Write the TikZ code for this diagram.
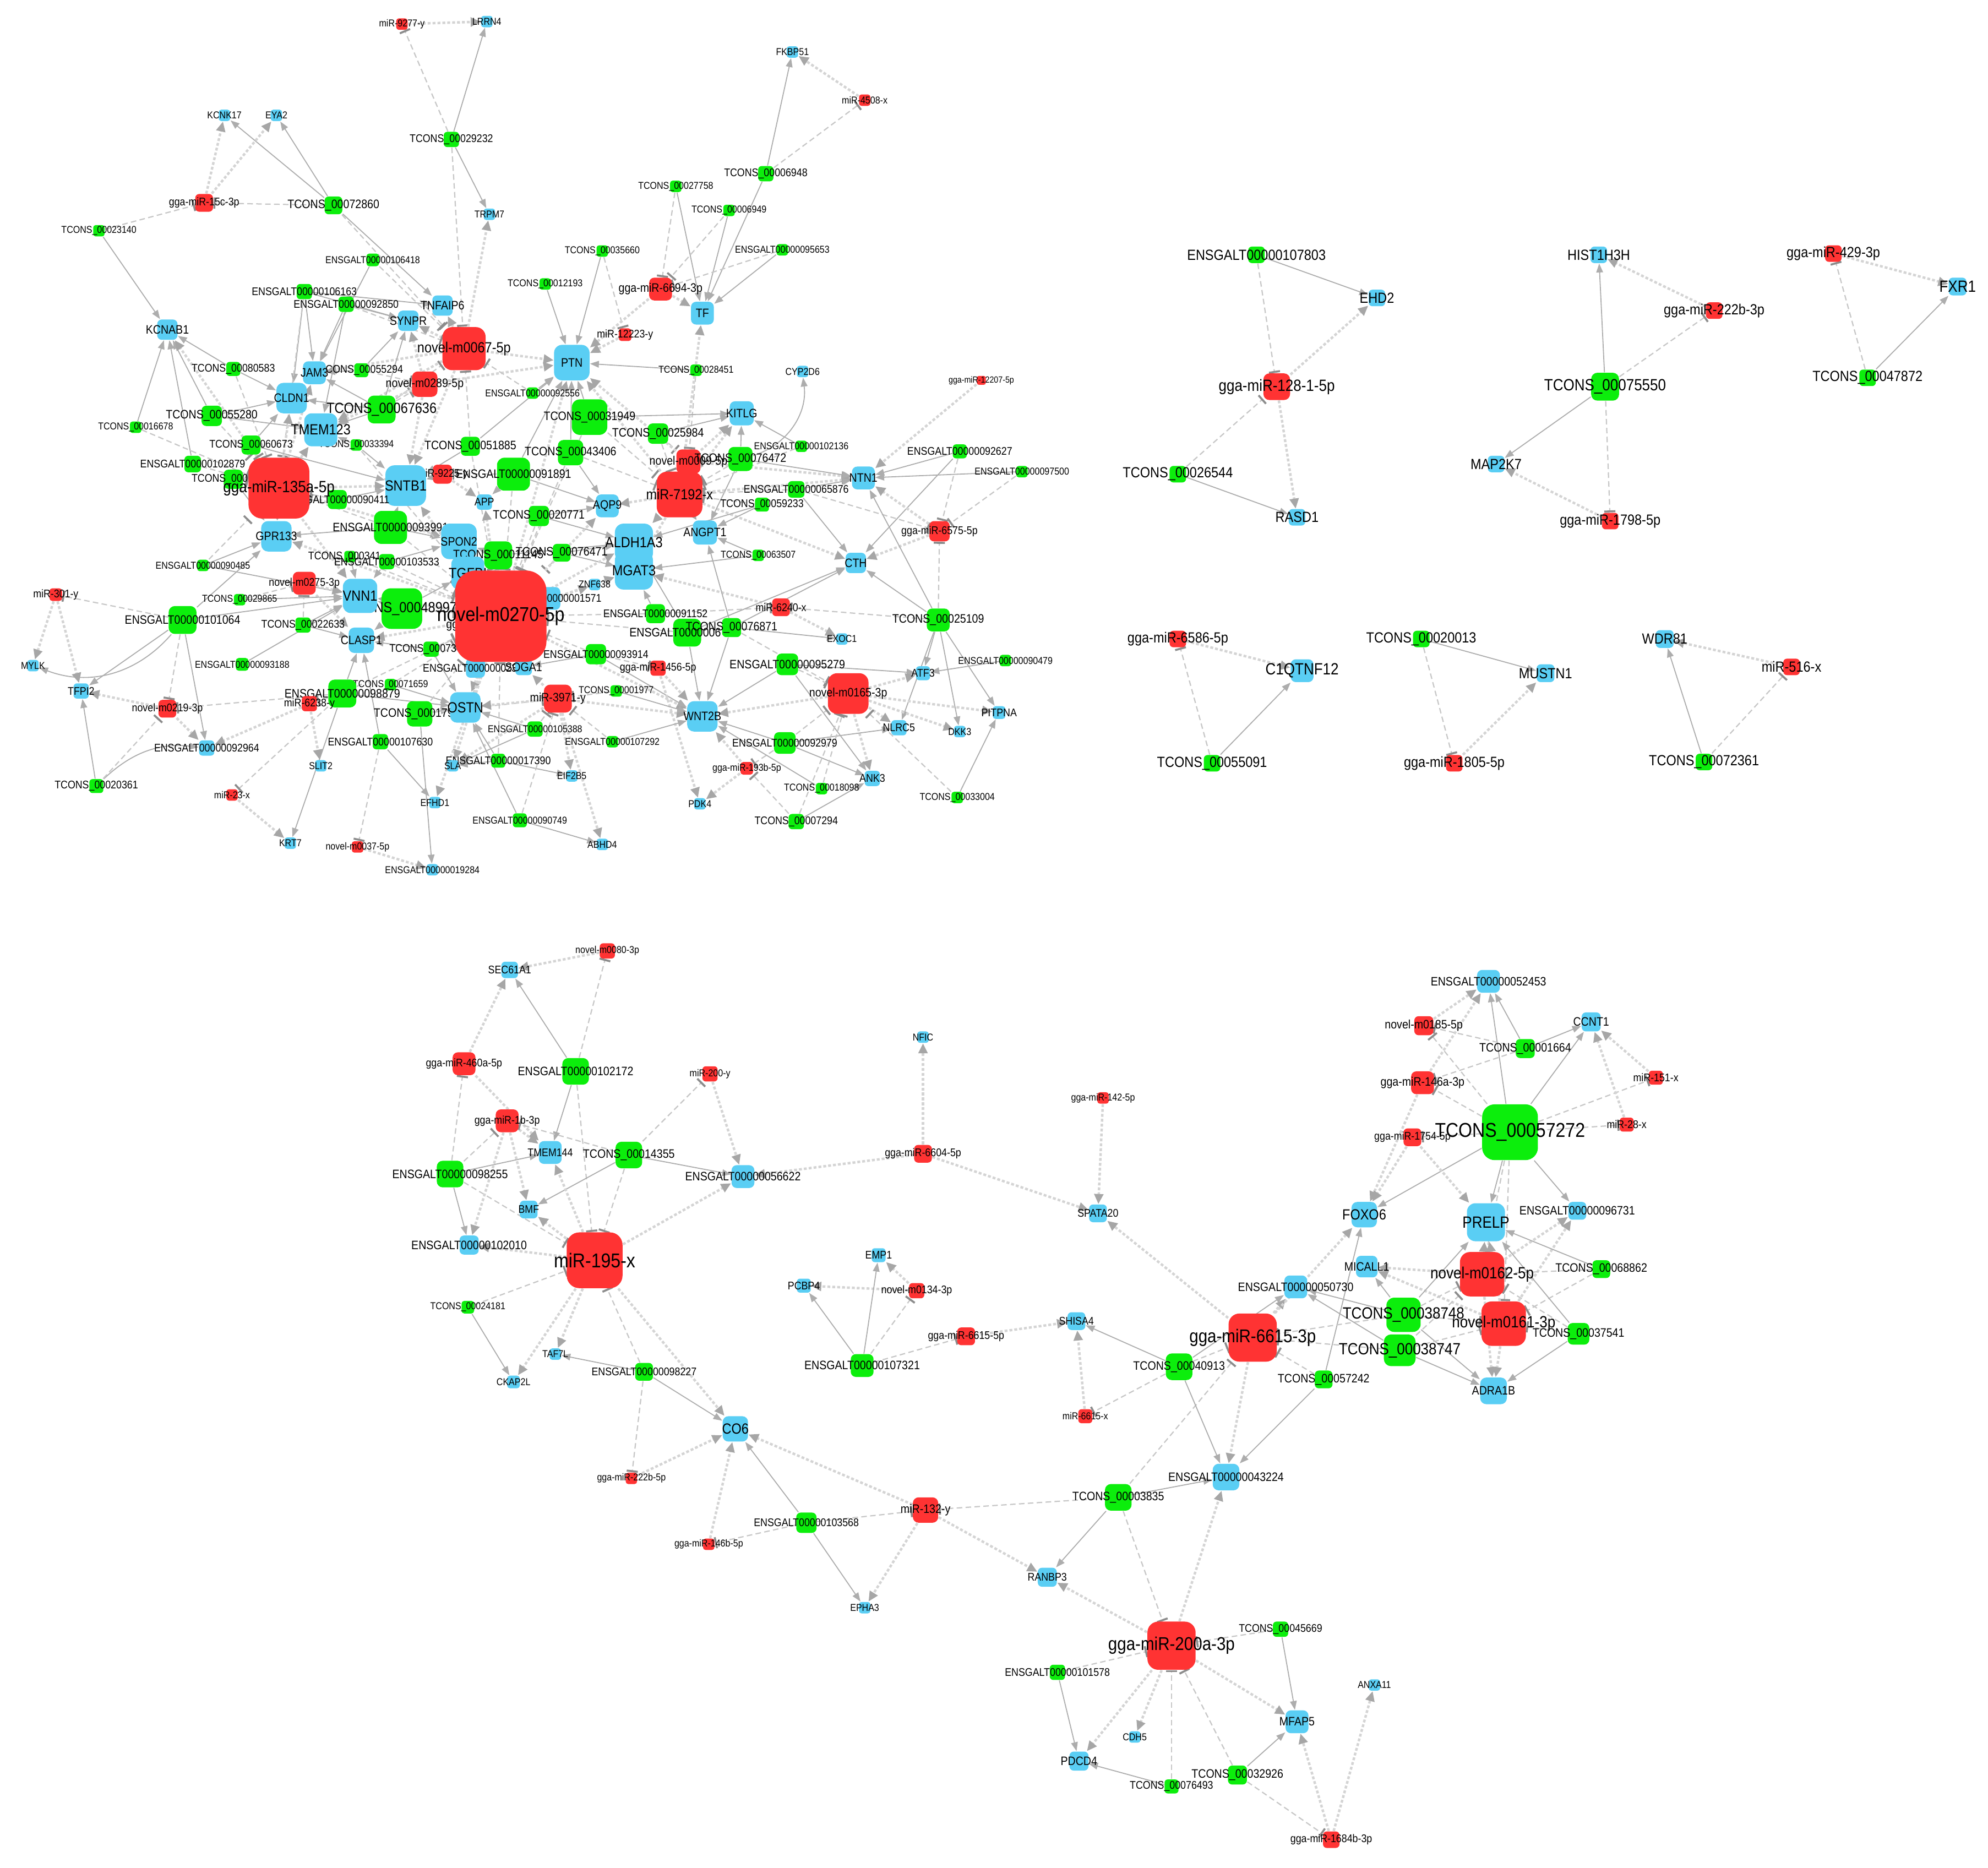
\documentclass[tikz,border=0pt]{standalone}
\usepackage{fontspec}
\setmainfont{Liberation Sans}[FakeStretch=0.88]
\usetikzlibrary{arrows.meta}
\definecolor{mred}{HTML}{FF3333}
\definecolor{gblue}{HTML}{5ACEF4}
\definecolor{lgreen}{HTML}{0CEE0C}
\pgfdeclarelayer{edges}
\pgfsetlayers{edges,main}
\begin{document}
\begin{tikzpicture}[x=0.2mm, y=-0.2mm,
  nd/.style={rectangle, inner sep=0pt, minimum size=#1*0.2mm, rounded corners=#1*0.045mm},
  mir/.style={nd=#1, fill=mred},
  gene/.style={nd=#1, fill=gblue},
  lnc/.style={nd=#1, fill=lgreen},
  fa/.style={font=\fontsize{4}{4}\selectfont},
  f1/.style={font=\fontsize{4.5}{5}\selectfont},
  f2/.style={font=\fontsize{5}{6}\selectfont},
  f3/.style={font=\fontsize{5.5}{6}\selectfont},
  f4/.style={font=\fontsize{6.6}{7}\selectfont},
  f5/.style={font=\fontsize{7.3}{8}\selectfont},
  fL/.style={font=\fontsize{8.3}{9}\selectfont},
  f6/.style={font=\fontsize{9}{10}\selectfont},
  tg/.style={draw=black!32, line width=0.45pt, -{Triangle[length=4pt,width=3pt]}},
  sp/.style={draw=black!22, line width=0.55pt, dash pattern=on 2.5pt off 1.5pt, -{Bar[width=5pt,line width=0.9pt,color=black!45]}},
  mt/.style={draw=black!17, line width=1.1pt, dash pattern=on 1.3pt off 0.9pt, -{Triangle[length=4.5pt,width=4pt,color=black!35]}}]
\useasboundingbox (0,0) rectangle (1568,1473);

% big network, upper left
\node[mir=9, label={[f1]center:miR-9277-y}] (m9277) at (317,19) {};
\node[gene=9, label={[f1]center:LRRN4}] (lrrn4) at (384,17) {};
\node[gene=9, label={[f1]center:KCNK17}] (kcnk17) at (177,91) {};
\node[gene=9, label={[f1]center:EYA2}] (eya2) at (218,91) {};
\node[lnc=12, label={[f2]center:TCONS\_00029232}] (t29232) at (356,110) {};
\node[mir=14, label={[f2]center:gga-miR-15c-3p}] (m15c) at (161,160) {};
\node[lnc=14, label={[f3]center:TCONS\_00072860}] (t72860) at (263,162) {};
\node[gene=9, label={[f1]center:TRPM7}] (trpm7) at (386,169) {};
\node[lnc=9, label={[f1]center:TCONS\_00023140}] (t23140) at (78,182) {};
\node[lnc=10, label={[f1]center:ENSGALT00000106418}] (e106418) at (294,205) {};
\node[lnc=12, label={[f2]center:ENSGALT00000106163}] (e106163) at (240,230) {};
\node[lnc=12, label={[f2]center:ENSGALT00000092850}] (e92850) at (273,240) {};
\node[gene=16, label={[f3]center:TNFAIP6}] (tnfaip6) at (349,241) {};
\node[gene=16, label={[f3]center:SYNPR}] (synpr) at (322,253) {};
\node[gene=16, label={[f3]center:KCNAB1}] (kcnab1) at (132,260) {};
\node[lnc=11, label={[f2]center:TCONS\_00080583}] (t80583) at (184,291) {};
\node[lnc=11, label={[f2]center:TCONS\_00055294}] (t55294) at (285,292) {};
\node[gene=18, label={[f3]center:JAM3}] (jam3) at (248,294) {};
\node[mir=34, label={[f4]center:novel-m0067-5p}] (m0067) at (366,275) {};
\node[mir=20, label={[f3]center:novel-m0289-5p}] (m0289) at (335,303) {};
\node[gene=9, label={[f1]center:FKBP51}] (fkbp51) at (625,41) {};
\node[mir=9, label={[f1]center:miR-4508-x}] (m4508) at (682,79) {};
\node[lnc=12, label={[f2]center:TCONS\_00006948}] (t6948) at (604,137) {};
\node[lnc=9, label={[f1]center:TCONS\_00027758}] (t27758) at (533,147) {};
\node[lnc=9, label={[f1]center:TCONS\_00006949}] (t6949) at (575,166) {};
\node[lnc=9, label={[f1]center:ENSGALT00000095653}] (e95653) at (617,197) {};
\node[lnc=9, label={[f1]center:TCONS\_00035660}] (t35660) at (475,198) {};
\node[lnc=9, label={[f1]center:TCONS\_00012193}] (t12193) at (430,224) {};
\node[mir=18, label={[f3]center:gga-miR-6694-3p}] (m6694) at (521,228) {};
\node[gene=18, label={[f3]center:TF}] (tf) at (554,247) {};
\node[mir=10, label={[f2]center:miR-12223-y}] (m12223) at (493,264) {};
\node[gene=28, label={[f3]center:PTN}] (ptn) at (451,286) {};
\node[lnc=9, label={[f1]center:TCONS\_00028451}] (t28451) at (549,292) {};
\node[gene=9, label={[f1]center:CYP2D6}] (cyp2d6) at (633,293) {};
\node[mir=7, label={[fa]center:gga-miR-12207-5p}] (m12207) at (774,300) {};
\node[lnc=9, label={[f1]center:ENSGALT00000092556}] (e92556) at (420,310) {};
\node[gene=24, label={[f3]center:CLDN1}] (cldn1) at (230,314) {};
\node[lnc=22, label={[f4]center:TCONS\_00067636}] (t67636) at (301,323) {};
\node[lnc=16, label={[f3]center:TCONS\_00055280}] (t55280) at (167,328) {};
\node[lnc=9, label={[f1]center:TCONS\_00016678}] (t16678) at (107,337) {};
\node[lnc=9, label={[f1]center:TCONS\_00033394}] (t33394) at (281,351) {};
\node[gene=26, label={[f4]center:TMEM123}] (tmem123) at (253,339) {};
\node[lnc=28, label={[f3]center:TCONS\_00031949}] (t31949) at (465,329) {};
\node[gene=19, label={[f3]center:KITLG}] (kitlg) at (585,326) {};
\node[lnc=16, label={[f3]center:TCONS\_00025984}] (t25984) at (519,342) {};
\node[lnc=9, label={[f1]center:ENSGALT00000102136}] (e102136) at (632,352) {};
\node[lnc=15, label={[f2]center:TCONS\_00060673}] (t60673) at (198,351) {};
\node[lnc=15, label={[f3]center:TCONS\_00051885}] (t51885) at (371,352) {};
\node[lnc=20, label={[f3]center:TCONS\_00043406}] (t43406) at (450,357) {};
\node[lnc=11, label={[f2]center:ENSGALT00000092627}] (e92627) at (757,356) {};
\node[lnc=13, label={[f2]center:ENSGALT00000102879}] (e102879) at (152,366) {};
\node[mir=19, label={[f3]center:novel-m0009-5p}] (m0009) at (543,364) {};
\node[lnc=19, label={[f3]center:TCONS\_00076472}] (t76472) at (584,362) {};
\node[lnc=9, label={[f1]center:ENSGALT00000097500}] (e97500) at (806,372) {};
\node[mir=15, label={[f2]center:miR-9225-y}] (m9225) at (349,374) {};
\node[lnc=26, label={[f3]center:ENSGALT00000091891}] (e91891) at (405,374) {};
\node[gene=18, label={[f3]center:NTN1}] (ntn1) at (681,377) {};
\node[lnc=15, label={[f2]center:TCONS\_000\phantom{00000}}] (thid) at (184,378) {};
\node[gene=32, label={[f4]center:SNTB1}] (sntb1) at (320,383) {};
\node[lnc=13, label={[f2]center:ENSGALT00000065876}] (e65876) at (628,386) {};
\node[mir=36, label={[f4]center:miR-7192-x}] (m7192) at (536,390) {};
\node[lnc=15, label={[f2]center:ENSGALT00000090411}] (e90411) at (266,394) {};
\node[mir=48, label={[f5]center:gga-miR-135a-5p}] (m135a) at (220,385) {};
\node[gene=12, label={[f2]center:APP}] (app) at (382,396) {};
\node[lnc=11, label={[f2]center:TCONS\_00059233}] (t59233) at (601,398) {};
\node[gene=18, label={[f3]center:AQP9}] (aqp9) at (479,399) {};
\node[lnc=16, label={[f3]center:TCONS\_00020771}] (t20771) at (425,407) {};
\node[lnc=26, label={[f3]center:ENSGALT00000093991}] (e93991) at (308,416) {};
\node[gene=19, label={[f3]center:ANGPT1}] (angpt1) at (556,420) {};
\node[mir=16, label={[f2]center:gga-miR-6575-5p}] (m6575) at (741,419) {};
\node[gene=24, label={[f3]center:GPR133}] (gpr133) at (218,423) {};
\node[gene=28, label={[f3]center:SPON2}] (spon2) at (362,427) {};
\node[gene=30, label={[f4]center:ALDH1A3}] (aldh1a3) at (500,428) {};
\node[gene=30, label={[f4]center:MGAT3}] (mgat3) at (500,450) {};
\node[lnc=22, label={[f3]center:TCONS\_00011145}] (t11145) at (393,438) {};
\node[lnc=14, label={[f3]center:TCONS\_00076471}] (t76471) at (443,436) {};
\node[lnc=9, label={[f2]center:TCONS\_000341\phantom{00}}] (t34175) at (276,439) {};
\node[lnc=12, label={[f2]center:ENSGALT00000103533}] (e103533) at (305,443) {};
\node[lnc=9, label={[f1]center:TCONS\_00063507}] (t63507) at (598,438) {};
\node[gene=16, label={[f3]center:CTH}] (cth) at (675,444) {};
\node[lnc=9, label={[f1]center:ENSGALT00000090485}] (e90485) at (160,446) {};
\node[gene=26, label={[f4]center:TGFBI}] (tgfbi) at (369,452) {};
\node[gene=9, label={[f1]center:ZNF638}] (znf638) at (469,461) {};
\node[mir=18, label={[f2]center:novel-m0275-3p}] (m0275) at (240,460) {};
\node[mir=10, label={[f2]center:miR-301-y}] (m301) at (44,469) {};
\node[lnc=9, label={[f1]center:TCONS\_00029865}] (t29865) at (189,473) {};
\node[lnc=32, label={[f4]center:TCONS\_00048997}] (t48997) at (317,480) {};
\node[gene=27, label={[f4]center:VNN1}] (vnn1) at (284,470) {};
\node[gene=18, label={[f2]center:ENSGALT00000001571}] (e1571) at (433,472) {};
\node[mir=20, label={[f3]center:gga-miR-\phantom{0000-0p}}] (mgh) at (385,493) {};
\node[lnc=12, label={[f2]center:TCONS\_00073\phantom{000}}] (t73x) at (340,512) {};
\node[mir=14, label={[f2]center:miR-6240-x}] (m6240) at (616,479) {};
\node[lnc=15, label={[f2]center:ENSGALT00000091152}] (e91152) at (517,484) {};
\node[lnc=18, label={[f3]center:TCONS\_00025109}] (t25109) at (740,489) {};
\node[lnc=22, label={[f3]center:ENSGALT00000101064}] (e101064) at (144,489) {};
\node[lnc=12, label={[f2]center:TCONS\_00022633}] (t22633) at (239,493) {};
\node[lnc=22, label={[f3]center:ENSGALT0000006\phantom{0000}}] (e06x) at (542,499) {};
\node[lnc=15, label={[f3]center:TCONS\_00076871}] (t76871) at (577,495) {};
\node[gene=9, label={[f1]center:EXOC1}] (exoc1) at (664,504) {};
\node[gene=20, label={[f3]center:CLASP1}] (clasp1) at (285,505) {};
\node[lnc=16, label={[f2]center:ENSGALT00000093914}] (e93914) at (470,516) {};
\node[lnc=9, label={[f1]center:ENSGALT00000090479}] (e90479) at (793,521) {};
\node[gene=9, label={[f1]center:MYLK}] (mylk) at (26,525) {};
\node[lnc=10, label={[f1]center:ENSGALT00000093188}] (e93188) at (191,524) {};
\node[gene=15, label={[f2]center:ENSGALT000000023\phantom{00}}] (e23x) at (375,527) {};
\node[gene=13, label={[f3]center:SOGA1}] (soga1) at (413,526) {};
\node[mir=72, label={[f6]center:novel-m0270-5p}] (m0270) at (395,486) {};
\node[mir=12, label={[f2]center:gga-miR-1456-5p}] (m1456) at (519,527) {};
\node[lnc=17, label={[f3]center:ENSGALT00000095279}] (e95279) at (621,524) {};
\node[gene=11, label={[f2]center:ATF3}] (atf3) at (728,531) {};
\node[gene=12, label={[f2]center:TFPI2}] (tfpi2) at (64,545) {};
\node[lnc=9, label={[f1]center:TCONS\_00071659}] (t71659) at (308,540) {};
\node[lnc=22, label={[f3]center:ENSGALT00000098879}] (e98879) at (270,547) {};
\node[mir=12, label={[f2]center:miR-6238-y}] (m6238) at (244,555) {};
\node[mir=14, label={[f2]center:novel-m0219-3p}] (m0219) at (132,559) {};
\node[lnc=20, label={[f3]center:TCONS\_00017904}] (t17904) at (331,563) {};
\node[gene=24, label={[f4]center:OSTN}] (ostn) at (367,558) {};
\node[mir=22, label={[f3]center:miR-3971-y}] (m3971) at (440,551) {};
\node[lnc=9, label={[f1]center:TCONS\_00001977}] (t1977) at (486,545) {};
\node[mir=32, label={[f3]center:novel-m0165-3p}] (m0165) at (669,547) {};
\node[gene=24, label={[f3]center:WNT2B}] (wnt2b) at (554,565) {};
\node[gene=10, label={[f2]center:PITPNA}] (pitpna) at (788,562) {};
\node[lnc=12, label={[f1]center:ENSGALT00000105388}] (e105388) at (422,575) {};
\node[gene=12, label={[f2]center:NLRC5}] (nlrc5) at (709,574) {};
\node[gene=9, label={[f1]center:DKK3}] (dkk3) at (757,577) {};
\node[lnc=9, label={[f1]center:ENSGALT00000107292}] (e107292) at (483,585) {};
\node[lnc=17, label={[f2]center:ENSGALT00000092979}] (e92979) at (619,586) {};
\node[gene=12, label={[f2]center:ENSGALT00000092964}] (e92964) at (163,590) {};
\node[lnc=12, label={[f2]center:ENSGALT00000107630}] (e107630) at (300,585) {};
\node[lnc=11, label={[f2]center:ENSGALT00000017390}] (e17390) at (393,600) {};
\node[gene=9, label={[f1]center:SLIT2}] (slit2) at (253,604) {};
\node[gene=9, label={[f1]center:SLA}] (sla) at (357,604) {};
\node[mir=10, label={[f1]center:gga-miR-193b-5p}] (m193b) at (589,606) {};
\node[gene=9, label={[f1]center:EIF2B5}] (eif2b5) at (451,612) {};
\node[gene=12, label={[f2]center:ANK3}] (ank3) at (688,614) {};
\node[lnc=11, label={[f2]center:TCONS\_00020361}] (t20361) at (76,620) {};
\node[lnc=9, label={[f1]center:TCONS\_00018098}] (t18098) at (648,622) {};
\node[mir=9, label={[f1]center:miR-23-x}] (m23) at (183,627) {};
\node[lnc=9, label={[f1]center:TCONS\_00033004}] (t33004) at (755,629) {};
\node[gene=9, label={[f1]center:EFHD1}] (efhd1) at (343,633) {};
\node[gene=9, label={[f1]center:PDK4}] (pdk4) at (552,634) {};
\node[lnc=11, label={[f1]center:ENSGALT00000090749}] (e90749) at (410,647) {};
\node[lnc=12, label={[f2]center:TCONS\_00007294}] (t7294) at (628,648) {};
\node[gene=9, label={[f1]center:KRT7}] (krt7) at (229,665) {};
\node[gene=9, label={[f1]center:ABHD4}] (abhd4) at (475,666) {};
\node[mir=9, label={[f1]center:novel-m0037-5p}] (m0037) at (282,668) {};
\node[gene=9, label={[f1]center:ENSGALT00000019284}] (e19284) at (341,686) {};

% small triangles, upper right
\node[lnc=13, label={[f4]center:ENSGALT00000107803}] (e107803) at (991,201) {};
\node[gene=13, label={[f4]center:EHD2}] (ehd2) at (1086,235) {};
\node[mir=21, label={[f5]center:gga-miR-128-1-5p}] (m128) at (1007,305) {};
\node[lnc=13, label={[f4]center:TCONS\_00026544}] (t26544) at (929,374) {};
\node[gene=13, label={[f4]center:RASD1}] (rasd1) at (1023,408) {};
\node[gene=13, label={[f4]center:HIST1H3H}] (hist1h3h) at (1261,201) {};
\node[mir=13, label={[f4]center:gga-miR-222b-3p}] (m222b3) at (1352,245) {};
\node[lnc=22, label={[f5]center:TCONS\_00075550}] (t75550) at (1266,305) {};
\node[gene=13, label={[f4]center:MAP2K7}] (map2k7) at (1180,366) {};
\node[mir=13, label={[f4]center:gga-miR-1798-5p}] (m1798) at (1270,411) {};
\node[mir=13, label={[f4]center:gga-miR-429-3p}] (m429) at (1446,200) {};
\node[gene=14, label={[f5]center:FXR1}] (fxr1) at (1544,226) {};
\node[lnc=13, label={[f4]center:TCONS\_00047872}] (t47872) at (1473,298) {};
\node[mir=13, label={[f4]center:gga-miR-6586-5p}] (m6586) at (929,504) {};
\node[gene=18, label={[f5]center:C1QTNF12}] (c1qtnf12) at (1027,529) {};
\node[lnc=13, label={[f4]center:TCONS\_00055091}] (t55091) at (956,602) {};
\node[lnc=13, label={[f4]center:TCONS\_00020013}] (t20013) at (1121,504) {};
\node[gene=14, label={[f4]center:MUSTN1}] (mustn1) at (1219,531) {};
\node[mir=13, label={[f4]center:gga-miR-1805-5p}] (m1805) at (1147,602) {};
\node[gene=14, label={[f4]center:WDR81}] (wdr81) at (1313,504) {};
\node[mir=13, label={[f4]center:miR-516-x}] (m516) at (1413,526) {};
\node[lnc=13, label={[f4]center:TCONS\_00072361}] (t72361) at (1344,601) {};

% lower network
\node[mir=12, label={[f1]center:novel-m0080-3p}] (m0080) at (479,750) {};
\node[gene=13, label={[f2]center:SEC61A1}] (sec61a1) at (402,765) {};
\node[mir=18, label={[f2]center:gga-miR-460a-5p}] (m460a) at (366,839) {};
\node[lnc=21, label={[f3]center:ENSGALT00000102172}] (e102172) at (454,845) {};
\node[mir=12, label={[f1]center:miR-200-y}] (m200y) at (560,847) {};
\node[gene=9, label={[f1]center:NFIC}] (nfic) at (728,818) {};
\node[mir=9, label={[f1]center:gga-miR-142-5p}] (m142) at (870,866) {};
\node[mir=18, label={[f2]center:gga-miR-1b-3p}] (m1b) at (400,884) {};
\node[gene=18, label={[f2]center:TMEM144}] (tmem144) at (434,909) {};
\node[lnc=21, label={[f3]center:TCONS\_00014355}] (t14355) at (496,911) {};
\node[mir=14, label={[f2]center:gga-miR-6604-5p}] (m6604) at (728,910) {};
\node[lnc=21, label={[f3]center:ENSGALT00000098255}] (e98255) at (355,926) {};
\node[gene=18, label={[f3]center:ENSGALT00000056622}] (e56622) at (586,928) {};
\node[gene=14, label={[f2]center:BMF}] (bmf) at (417,954) {};
\node[gene=14, label={[f2]center:SPATA20}] (spata20) at (866,957) {};
\node[gene=15, label={[f3]center:ENSGALT00000102010}] (e102010) at (370,982) {};
\node[mir=44, label={[f6]center:miR-195-x}] (m195) at (469,994) {};
\node[gene=11, label={[f2]center:EMP1}] (emp1) at (693,990) {};
\node[gene=11, label={[f2]center:PCBP4}] (pcbp4) at (634,1014) {};
\node[mir=12, label={[f2]center:novel-m0134-3p}] (m0134) at (723,1018) {};
\node[lnc=10, label={[f1]center:TCONS\_00024181}] (t24181) at (369,1031) {};
\node[gene=14, label={[f2]center:SHISA4}] (shisa4) at (849,1042) {};
\node[mir=14, label={[f2]center:gga-miR-6615-5p}] (m6615b) at (762,1054) {};
\node[gene=9, label={[f1]center:TAF7L}] (taf7l) at (438,1068) {};
\node[lnc=18, label={[f3]center:ENSGALT00000107321}] (e107321) at (680,1077) {};
\node[lnc=14, label={[f2]center:ENSGALT00000098227}] (e98227) at (508,1082) {};
\node[gene=10, label={[f1]center:CKAP2L}] (ckap2l) at (405,1090) {};
\node[mir=11, label={[f1]center:miR-6615-x}] (m6615x) at (856,1117) {};
\node[gene=20, label={[f4]center:CO6}] (co6) at (580,1127) {};
\node[mir=9, label={[f1]center:gga-miR-222b-5p}] (m222b5) at (498,1166) {};
\node[lnc=16, label={[f2]center:ENSGALT00000103568}] (e103568) at (636,1201) {};
\node[mir=20, label={[f3]center:miR-132-y}] (m132) at (730,1191) {};
\node[mir=9, label={[f1]center:gga-miR-146b-5p}] (m146b) at (559,1218) {};
\node[gene=9, label={[f1]center:EPHA3}] (epha3) at (682,1268) {};
\node[lnc=21, label={[f3]center:TCONS\_00003835}] (t3835) at (882,1181) {};
\node[gene=21, label={[f3]center:ENSGALT00000043224}] (e43224) at (967,1165) {};
\node[gene=15, label={[f2]center:RANBP3}] (ranbp3) at (826,1244) {};
\node[lnc=21, label={[f3]center:TCONS\_00040913}] (t40913) at (930,1078) {};
\node[lnc=14, label={[f3]center:TCONS\_00057242}] (t57242) at (1044,1088) {};
\node[gene=18, label={[f3]center:ENSGALT00000050730}] (e50730) at (1022,1015) {};
\node[mir=38, label={[fL]center:gga-miR-6615-3p}] (m6615) at (988,1055) {};
\node[mir=38, label={[fL]center:gga-miR-200a-3p}] (m200a) at (924,1298) {};
\node[lnc=12, label={[f2]center:TCONS\_00045669}] (t45669) at (1010,1285) {};
\node[lnc=12, label={[f2]center:ENSGALT00000101578}] (e101578) at (834,1319) {};
\node[gene=9, label={[f1]center:ANXA11}] (anxa11) at (1084,1329) {};
\node[gene=18, label={[f3]center:MFAP5}] (mfap5) at (1023,1358) {};
\node[gene=9, label={[f1]center:CDH5}] (cdh5) at (895,1370) {};
\node[gene=15, label={[f3]center:PDCD4}] (pdcd4) at (851,1389) {};
\node[lnc=15, label={[f3]center:TCONS\_00032926}] (t32926) at (976,1400) {};
\node[lnc=11, label={[f2]center:TCONS\_00076493}] (t76493) at (924,1409) {};
\node[mir=13, label={[f2]center:gga-miR-1684b-3p}] (m1684b) at (1050,1451) {};
\node[gene=18, label={[f3]center:ENSGALT00000052453}] (e52453) at (1174,774) {};
\node[mir=15, label={[f3]center:novel-m0185-5p}] (m0185) at (1123,809) {};
\node[gene=15, label={[f3]center:CCNT1}] (ccnt1) at (1255,806) {};
\node[lnc=15, label={[f3]center:TCONS\_00001664}] (t1664) at (1203,827) {};
\node[mir=18, label={[f3]center:gga-miR-146a-3p}] (m146a) at (1122,854) {};
\node[mir=11, label={[f2]center:miR-151-x}] (m151) at (1306,850) {};
\node[mir=14, label={[f2]center:gga-miR-1754-5p}] (m1754) at (1114,897) {};
\node[lnc=44, label={[f6]center:TCONS\_00057272}] (t57272) at (1191,893) {};
\node[mir=11, label={[f2]center:miR-28-x}] (m28) at (1283,887) {};
\node[gene=20, label={[f4]center:FOXO6}] (foxo6) at (1076,958) {};
\node[gene=30, label={[f5]center:PRELP}] (prelp) at (1172,964) {};
\node[gene=14, label={[f3]center:ENSGALT00000096731}] (e96731) at (1244,955) {};
\node[gene=17, label={[f3]center:MICALL1}] (micall1) at (1078,999) {};
\node[lnc=14, label={[f3]center:TCONS\_00068862}] (t68862) at (1263,1001) {};
\node[mir=35, label={[f5]center:novel-m0162-5p}] (m0162) at (1169,1005) {};
\node[lnc=27, label={[f5]center:TCONS\_00038748}] (t38748) at (1107,1037) {};
\node[lnc=17, label={[f3]center:TCONS\_00037541}] (t37541) at (1245,1052) {};
\node[mir=35, label={[f5]center:novel-m0161-3p}] (m0161) at (1186,1044) {};
\node[lnc=25, label={[f5]center:TCONS\_00038747}] (t38747) at (1104,1065) {};
\node[gene=21, label={[f3]center:ADRA1B}] (adra1b) at (1178,1097) {};

\begin{pgfonlayer}{edges}
% big network, upper left
\path (t29232) edge[tg] (lrrn4) edge[tg] (trpm7) edge[sp] (m9277) edge[sp] (m0067);
\path (m9277) edge[mt] (lrrn4);
\path (m0067) edge[mt] (trpm7) edge[mt] (synpr) edge[mt] (tnfaip6) edge[mt] (ptn) edge[mt] (tmem123) edge[mt] (jam3) edge[mt] (sntb1);
\path (t72860) edge[tg] (kcnk17) edge[tg] (eya2) edge[tg] (tnfaip6) edge[sp] (m15c) edge[sp] (m0067);
\path (m15c) edge[mt] (kcnk17) edge[mt] (eya2);
\path (t23140) edge[sp] (m15c) edge[tg] (kcnab1);
\path (e106418) edge[tg] (jam3) edge[sp] (m0067);
\path (e106163) edge[tg] (tnfaip6) edge[tg] (synpr) edge[tg] (jam3) edge[tg] (cldn1) edge[sp] (m135a);
\path (e92850) edge[tg] (synpr) edge[tg] (jam3) edge[tg] (tmem123) edge[sp] (m0067);
\path (t80583) edge[tg] (kcnab1) edge[tg] (cldn1) edge[sp] (m135a);
\path (t16678) edge[tg] (kcnab1) edge[sp] (m135a);
\path (t55280) edge[tg] (kcnab1) edge[tg] (cldn1) edge[tg] (tmem123) edge[sp] (m135a);
\path (m135a) edge[mt] (kcnab1) edge[mt] (cldn1) edge[mt] (tmem123) edge[mt] (gpr133) edge[mt] (sntb1) edge[mt] (jam3) edge[mt] (vnn1) edge[mt] (spon2);
\path (t60673) edge[sp] (m135a) edge[tg] (cldn1) edge[tg] (sntb1);
\path (e102879) edge[sp] (m135a) edge[tg] (kcnab1);
\path (thid) edge[sp] (m135a) edge[tg] (gpr133);
\path (e90411) edge[sp] (m135a) edge[tg] (sntb1);
\path (e93991) edge[sp] (m135a) edge[tg] (gpr133) edge[tg] (spon2) edge[sp] (m0270) edge[tg] (sntb1);
\path (e90485) edge[sp] (m135a) edge[tg] (gpr133) edge[tg] (vnn1);
\path (t67636) edge[tg] (cldn1) edge[tg] (tmem123) edge[tg] (jam3) edge[sp] (m0067) edge[sp] (m0289) edge[tg] (synpr);
\path (m0289) edge[mt] (synpr) edge[mt] (tmem123) edge[mt] (sntb1) edge[mt] (ptn);
\path (t55294) edge[tg] (jam3) edge[tg] (synpr) edge[sp] (m0289);
\path (t33394) edge[tg] (tmem123) edge[tg] (sntb1) edge[sp] (m0270);
\path (t51885) edge[tg] (sntb1) edge[tg] (ptn) edge[sp] (m0067) edge[sp] (m0270);
\path (e92556) edge[tg] (ptn) edge[sp] (m0067);
\path (t12193) edge[tg] (ptn);
\path (t35660) edge[tg] (ptn) edge[sp] (m12223);
\path (m12223) edge[mt] (ptn);
\path (t27758) edge[tg] (tf) edge[sp] (m6694);
\path (t6949) edge[tg] (tf) edge[sp] (m6694);
\path (t6948) edge[tg] (tf) edge[tg] (fkbp51) edge[sp] (m4508);
\path (m4508) edge[mt] (fkbp51);
\path (e95653) edge[tg] (tf) edge[sp] (m6694);
\path (m6694) edge[mt] (tf) edge[mt] (ptn);
\path (t28451) edge[tg] (ptn) edge[sp] (m0009);
\path (t31949) edge[tg] (kitlg) edge[tg] (ptn) edge[sp] (m0270) edge[sp] (m7192);
\path (t25984) edge[tg] (kitlg) edge[sp] (m0009) edge[sp] (m7192);
\path (m0009) edge[mt] (kitlg) edge[mt] (ntn1) edge[mt] (ptn);
\path (m7192) edge[mt] (kitlg) edge[mt] (aldh1a3) edge[mt] (mgat3) edge[mt] (angpt1) edge[mt] (aqp9) edge[mt] (ntn1) edge[mt] (cth) edge[mt] (ptn) edge[mt] (tf);
\path (t76472) edge[tg, bend right=40] (cyp2d6) edge[tg] (kitlg) edge[tg] (ntn1) edge[sp] (m7192) edge[sp] (m0009) edge[tg] (angpt1);
\path (e102136) edge[tg] (kitlg) edge[sp] (m7192);
\path (m12207) edge[mt] (ntn1);
\path (e92627) edge[tg] (ntn1) edge[tg] (cth) edge[sp] (m6575);
\path (e97500) edge[tg] (ntn1) edge[sp] (m6575);
\path (e65876) edge[tg] (ntn1) edge[tg] (cth) edge[sp] (m7192) edge[sp] (m6575);
\path (m6575) edge[mt] (cth) edge[mt] (ntn1);
\path (t25109) edge[tg] (ntn1) edge[tg] (cth) edge[tg] (atf3) edge[tg] (dkk3) edge[tg] (pitpna) edge[tg] (nlrc5) edge[sp] (m6575) edge[sp] (m6240);
\path (t59233) edge[tg] (angpt1) edge[sp] (m7192) edge[tg] (aldh1a3);
\path (t43406) edge[tg] (aqp9) edge[sp] (m7192) edge[tg] (ptn) edge[sp] (m0270);
\path (t20771) edge[tg] (aldh1a3) edge[tg] (aqp9) edge[sp] (m0270);
\path (e91891) edge[tg] (ptn) edge[tg] (aqp9) edge[tg] (app) edge[sp] (m9225) edge[sp] (m0270);
\path (m9225) edge[mt] (sntb1) edge[mt] (app);
\path (t63507) edge[tg] (mgat3) edge[tg] (angpt1);
\path (m6240) edge[mt] (exoc1) edge[mt] (mgat3);
\path (e91152) edge[sp] (m6240) edge[tg] (mgat3) edge[sp] (m0270);
\path (t76871) edge[tg] (exoc1) edge[tg] (cth) edge[tg] (wnt2b) edge[tg] (angpt1) edge[sp] (m0165);
\path (e06x) edge[tg] (cth) edge[tg] (wnt2b) edge[sp] (m0270) edge[tg] (aldh1a3);
\path (t76471) edge[tg] (aldh1a3) edge[tg] (mgat3) edge[sp] (m0270);
\path (t11145) edge[tg] (spon2) edge[sp] (m0270) edge[tg] (aldh1a3);
\path (m0270) edge[mt] (vnn1) edge[mt] (clasp1) edge[mt] (ostn) edge[mt] (spon2) edge[mt] (sntb1) edge[mt] (aldh1a3) edge[mt] (mgat3) edge[mt] (znf638) edge[mt] (app) edge[mt] (aqp9) edge[mt] (wnt2b) edge[mt] (ptn) edge[mt] (gpr133) edge[mt] (sla) edge[mt] (efhd1);
\path (e103533) edge[tg] (vnn1) edge[sp] (m0270) edge[tg] (spon2);
\path (t34175) edge[tg] (vnn1) edge[sp] (m0270);
\path (t48997) edge[tg] (vnn1) edge[tg] (clasp1) edge[sp] (m0270) edge[tg] (tgfbi);
\path (m0275) edge[mt] (vnn1) edge[mt] (clasp1);
\path (t29865) edge[tg] (vnn1) edge[sp] (m0275);
\path (t22633) edge[tg] (clasp1) edge[tg] (vnn1) edge[sp] (m0275);
\path (e101064) edge[tg] (tfpi2) edge[tg] (e92964) edge[tg] (vnn1) edge[tg] (gpr133) edge[sp] (m301) edge[sp] (m0219) edge[tg, bend left=35] (mylk);
\path (m301) edge[mt] (mylk) edge[mt] (tfpi2);
\path (t20361) edge[tg] (tfpi2) edge[tg, bend left=25] (e92964) edge[sp] (m0219);
\path (m0219) edge[mt] (tfpi2) edge[mt] (e92964);
\path (e93188) edge[tg] (vnn1);
\path (e98879) edge[sp] (m0219) edge[sp] (m6238) edge[sp] (m23) edge[tg] (krt7) edge[tg] (ostn) edge[tg] (clasp1) edge[sp] (m0270);
\path (m6238) edge[mt] (e92964) edge[mt] (slit2);
\path (m23) edge[mt] (krt7);
\path (t71659) edge[tg] (ostn) edge[sp] (m0270);
\path (t17904) edge[tg] (ostn) edge[sp] (m0270) edge[tg] (e19284) edge[sp] (m3971);
\path (e107630) edge[tg] (efhd1) edge[sp] (m0037) edge[tg] (clasp1);
\path (m0037) edge[mt] (e19284);
\path (t73x) edge[tg] (clasp1) edge[sp] (m0270) edge[tg] (ostn);
\path (m3971) edge[mt] (ostn) edge[mt] (eif2b5) edge[mt] (abhd4) edge[mt] (sla) edge[mt] (wnt2b) edge[mt] (soga1);
\path (e105388) edge[tg] (ostn) edge[sp] (m3971) edge[tg] (sla);
\path (e17390) edge[tg] (eif2b5) edge[tg] (sla) edge[tg] (ostn) edge[sp] (m0270);
\path (e90749) edge[tg] (abhd4) edge[tg] (ostn) edge[sp] (m3971);
\path (e93914) edge[sp] (m1456) edge[tg] (wnt2b) edge[tg] (soga1) edge[sp] (m0270);
\path (m1456) edge[mt] (wnt2b) edge[mt] (pdk4);
\path (t1977) edge[tg] (wnt2b) edge[sp] (m3971);
\path (e107292) edge[tg] (wnt2b) edge[sp] (m3971);
\path (e95279) edge[tg] (atf3) edge[tg] (wnt2b) edge[sp] (m0165) edge[tg] (ank3);
\path (e90479) edge[tg] (atf3);
\path (m0165) edge[mt] (atf3) edge[mt] (wnt2b) edge[mt] (nlrc5) edge[mt] (dkk3) edge[mt] (pitpna) edge[mt] (ank3);
\path (t33004) edge[tg] (pitpna) edge[sp] (m0165);
\path (e92979) edge[tg] (nlrc5) edge[tg] (wnt2b) edge[tg] (ank3) edge[sp] (m0165) edge[sp] (m193b);
\path (m193b) edge[mt] (wnt2b) edge[mt] (pdk4);
\path (t7294) edge[tg] (ank3) edge[sp] (m193b) edge[sp] (m0165);
\path (t18098) edge[tg] (wnt2b) edge[sp] (m0165);

% small triangles, upper right
\path (e107803) edge[tg] (ehd2) edge[sp] (m128);
\path (m128) edge[mt] (ehd2) edge[mt] (rasd1);
\path (t26544) edge[sp] (m128) edge[tg] (rasd1);
\path (t75550) edge[tg] (hist1h3h) edge[sp] (m222b3) edge[tg] (map2k7) edge[sp] (m1798);
\path (m222b3) edge[mt] (hist1h3h);
\path (m1798) edge[mt] (map2k7);
\path (t47872) edge[sp] (m429) edge[tg] (fxr1);
\path (m429) edge[mt] (fxr1);
\path (t55091) edge[sp] (m6586) edge[tg] (c1qtnf12);
\path (m6586) edge[mt] (c1qtnf12);
\path (t20013) edge[tg] (mustn1) edge[sp] (m1805);
\path (m1805) edge[mt] (mustn1);
\path (t72361) edge[tg] (wdr81) edge[sp] (m516);
\path (m516) edge[mt] (wdr81);

% lower network
\path (e102172) edge[tg] (sec61a1) edge[sp] (m0080) edge[tg] (tmem144) edge[sp] (m195);
\path (m0080) edge[mt] (sec61a1);
\path (m460a) edge[mt] (sec61a1) edge[mt] (tmem144);
\path (e98255) edge[sp] (m460a) edge[sp] (m1b) edge[tg] (tmem144) edge[tg] (e102010) edge[sp] (m195);
\path (m1b) edge[mt] (tmem144) edge[mt] (bmf) edge[mt] (e102010);
\path (t14355) edge[sp] (m1b) edge[tg] (bmf) edge[tg] (e56622) edge[sp] (m195) edge[sp] (m200y);
\path (m200y) edge[mt] (e56622);
\path (m195) edge[mt] (bmf) edge[mt] (tmem144) edge[mt] (e102010) edge[mt] (e56622) edge[mt] (taf7l) edge[mt] (ckap2l) edge[mt] (co6);
\path (t24181) edge[sp] (m195) edge[tg] (ckap2l);
\path (e98227) edge[sp] (m195) edge[tg] (taf7l) edge[tg] (co6) edge[sp] (m222b5);
\path (m222b5) edge[mt] (co6);
\path (m146b) edge[mt] (co6);
\path (e103568) edge[sp] (m146b) edge[tg] (co6) edge[tg] (epha3) edge[sp] (m132);
\path (m132) edge[mt] (co6) edge[mt] (epha3) edge[mt] (ranbp3);
\path (t3835) edge[sp] (m132) edge[tg] (ranbp3) edge[tg] (e43224) edge[sp] (m6615) edge[sp] (m200a);
\path (m6604) edge[mt] (nfic) edge[mt] (e56622) edge[mt] (spata20);
\path (m142) edge[mt] (spata20);
\path (m6615) edge[mt] (spata20) edge[mt] (e50730) edge[mt] (foxo6) edge[mt] (e43224);
\path (m0134) edge[mt] (emp1) edge[mt] (pcbp4);
\path (e107321) edge[sp] (m0134) edge[tg] (pcbp4) edge[tg] (emp1) edge[sp] (m6615b);
\path (m6615b) edge[mt] (shisa4);
\path (m6615x) edge[mt] (shisa4);
\path (t40913) edge[sp] (m6615x) edge[tg] (shisa4) edge[sp] (m6615) edge[tg] (e43224) edge[tg] (e50730);
\path (t57242) edge[sp] (m6615) edge[tg] (e43224) edge[tg] (foxo6);
\path (m200a) edge[mt] (ranbp3) edge[mt] (e43224) edge[mt] (pdcd4) edge[mt] (cdh5) edge[mt] (mfap5);
\path (e101578) edge[sp] (m200a) edge[tg] (pdcd4);
\path (t45669) edge[sp] (m200a) edge[tg] (mfap5);
\path (t76493) edge[sp] (m200a) edge[tg] (pdcd4);
\path (t32926) edge[sp] (m200a) edge[tg] (mfap5) edge[sp] (m1684b);
\path (m1684b) edge[mt] (mfap5) edge[mt] (anxa11);
\path (t57272) edge[tg] (e52453) edge[tg] (ccnt1) edge[tg] (e96731) edge[tg] (prelp) edge[tg] (foxo6) edge[sp] (m0185) edge[sp] (m146a) edge[sp] (m151) edge[sp] (m28) edge[sp] (m1754) edge[sp] (m0162) edge[sp] (m0161);
\path (t1664) edge[tg] (e52453) edge[tg] (ccnt1) edge[sp] (m0185) edge[sp] (m146a);
\path (m0185) edge[mt] (e52453);
\path (m146a) edge[mt] (e52453) edge[mt] (foxo6);
\path (m1754) edge[mt] (foxo6) edge[mt] (prelp);
\path (m151) edge[mt] (ccnt1);
\path (m28) edge[mt] (ccnt1);
\path (m0162) edge[mt] (prelp) edge[mt] (micall1) edge[mt] (e96731) edge[mt] (adra1b);
\path (m0161) edge[mt] (prelp) edge[mt] (adra1b) edge[mt] (micall1) edge[mt] (e96731);
\path (t38748) edge[sp] (m6615) edge[tg] (micall1) edge[tg] (e50730) edge[tg] (prelp) edge[sp] (m0162) edge[sp] (m0161) edge[tg] (adra1b);
\path (t38747) edge[sp] (m6615) edge[tg] (e50730) edge[tg] (adra1b) edge[sp] (m0161) edge[sp] (m0162);
\path (t68862) edge[tg] (prelp) edge[sp] (m0162) edge[sp] (m0161);
\path (t37541) edge[tg] (adra1b) edge[tg] (prelp) edge[sp] (m0161) edge[sp] (m0162);
\end{pgfonlayer}
\end{tikzpicture}
\end{document}
